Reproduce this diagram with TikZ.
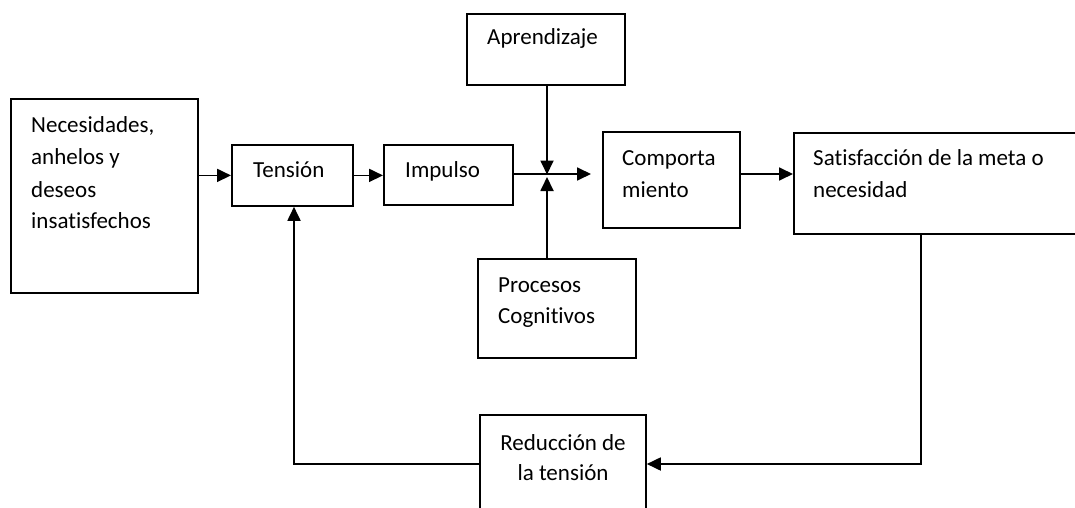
\documentclass[tikz,border=0pt]{standalone}
\usepackage{fontspec}
\setmainfont{Carlito}[Ligatures=NoCommon]
\usetikzlibrary{arrows.meta,calc}
\begin{document}
\begin{tikzpicture}[x=1pt,y=-1pt,
  box/.style={draw,line width=1.8pt,inner sep=0pt,anchor=north west},
  txt/.style={anchor=base west,inner sep=0pt,font=\fontsize{23}{30}\selectfont},
  ctxt/.style={anchor=base,inner sep=0pt,font=\fontsize{23}{30}\selectfont},
  conn/.style={line width=1.8pt},
  arr/.style={conn,-{Triangle[length=14pt,width=13pt]}}]
\clip (0,0) rectangle (1075,508);
\fill[white] (0,0) rectangle (1075,508);
% boxes
\node[box,minimum width=187pt,minimum height=194pt] (nec) at (10,98) {};
\node[box,minimum width=121pt,minimum height=61pt] (ten) at (231,144) {};
\node[box,minimum width=129pt,minimum height=60pt] (imp) at (383,144) {};
\node[box,minimum width=158pt,minimum height=71pt] (apr) at (466,13) {};
\node[box,minimum width=158pt,minimum height=99pt] (pro) at (477,258) {};
\node[box,minimum width=137pt,minimum height=96pt] (com) at (602,131) {};
\node[box,minimum width=300pt,minimum height=101pt] (sat) at (793,132) {};
\node[box,minimum width=166pt,minimum height=110pt] (red) at (479,414) {};
% texts
\node[txt] (nect1) at (31,132) {Necesidades,};
\node[txt] (nect2) at (31,164.5) {anhelos y};
\node[txt] (nect3) at (31,197) {deseos};
\node[txt] (nect4) at (31,228) {insatisfechos};
\node[txt] (tent) at (253,177) {Tensión};
\node[txt] (impt) at (405,177) {Impulso};
\node[txt] (aprt) at (487,45) {Aprendizaje};
\node[txt] (comt1) at (622,165) {Comporta};
\node[txt] (comt2) at (622,197) {miento};
\node[txt] (satt1) at (813,165) {Satisfacción de la meta o};
\node[txt] (satt2) at (813,197) {necesidad};
\node[txt] (prot1) at (498,292) {Procesos};
\node[txt] (prot2) at (498,323) {Cognitivos};
\node[ctxt] (redt1) at (563,450) {Reducción de};
\node[ctxt] (redt2) at (563,480) {la tensión};
% coordinates
\coordinate (j) at (547,174);
\coordinate (c1) at (921,464);
\coordinate (c2) at (294,464);
% connectors
\draw[arr] (nec.east |- ten.west) -- (ten.west);
\draw[arr] (ten.east) -- (imp.west |- ten.east);
\draw[conn] (imp.east |- j) -- (j);
\draw[arr,shorten >=11pt] (j) -- (com.west |- j);
\draw[arr] (j |- apr.south) -- ($(j)+(0,0.5)$);
\draw[arr] (j |- pro.north) -- ($(j)+(0,3)$);
\draw[arr] (com.east |- j) -- (sat.west |- j);
\draw[arr] (c1 |- sat.south) -- (c1) -- (red.east |- c1);
\draw[arr] (red.west |- c2) -- (c2) -- (c2 |- ten.south);
\end{tikzpicture}
\end{document}
